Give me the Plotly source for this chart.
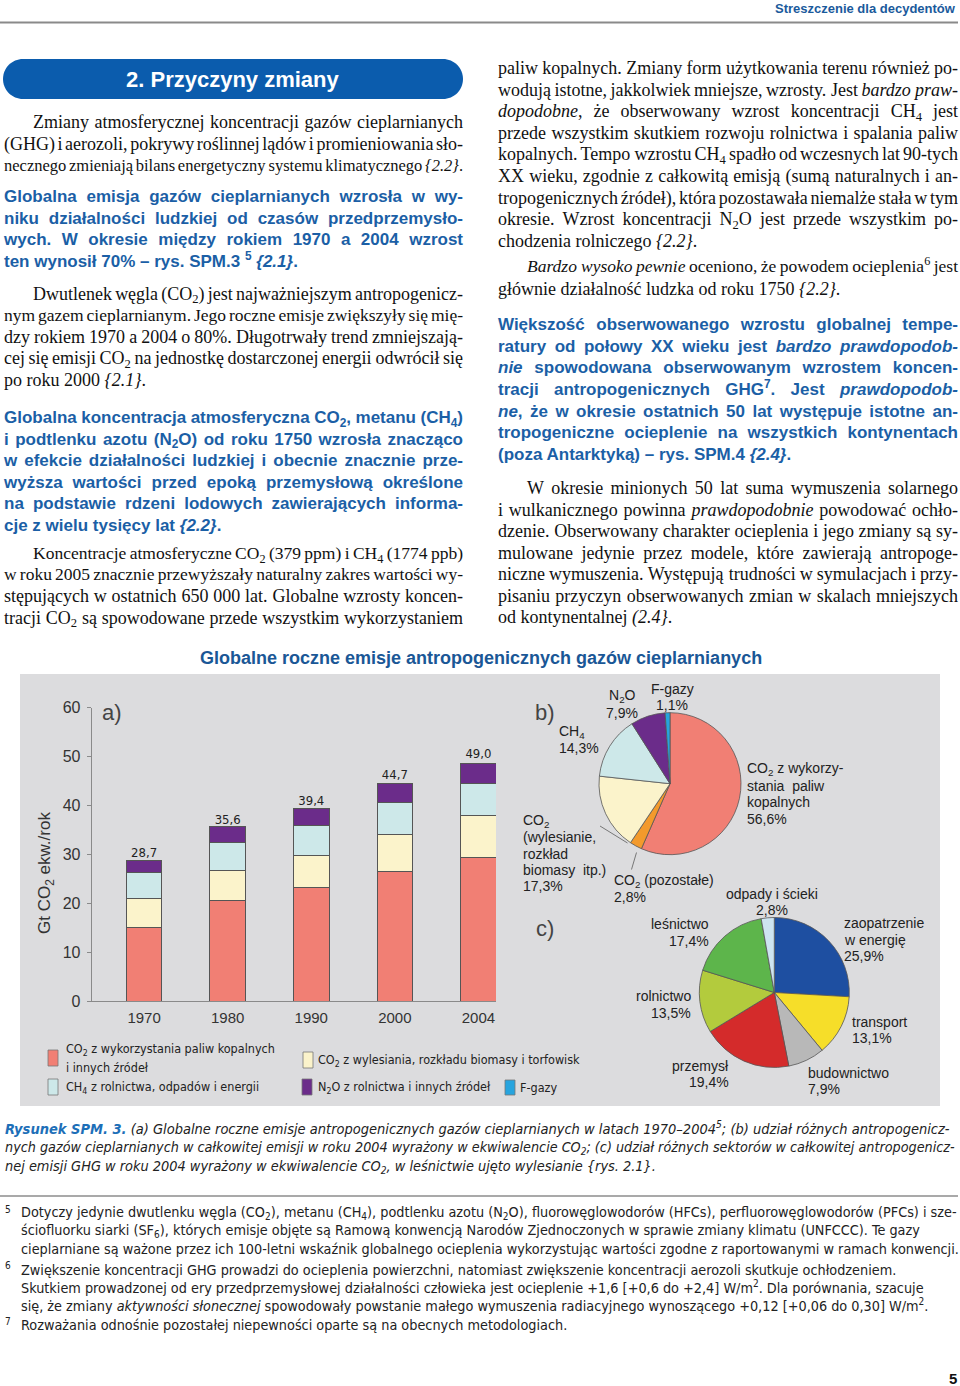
import re
import plotly.graph_objects as go

W, H = 960, 1386


def X(px):
    return px / W


def Y(py):
    return 1 - py / H


# ---------------- data ----------------
years = ["1970", "1980", "1990", "2000", "2004"]
co2_fossil = [15.1, 20.6, 23.3, 26.4, 29.3]
co2_deforest = [5.8, 6.1, 6.4, 7.7, 8.6]
ch4_values = [5.3, 5.8, 6.2, 6.5, 6.6]
n2o_values = [2.5, 3.1, 3.4, 3.9, 4.1]
totals = [28.7, 35.6, 39.4, 44.7, 49.0]
y_ticks = [0, 10, 20, 30, 40, 50, 60]

series_names = [
    "CO<sub>2</sub> z wykorzystania paliw kopalnych<br>i innych źródeł",
    "CO<sub>2</sub> z wylesiania, rozkładu biomasy i torfowisk",
    "CH<sub>4</sub> z rolnictwa, odpadów i energii",
    "N<sub>2</sub>O z rolnictwa i innych źródeł",
    "F-gazy",
]

gas_labels = ["CO2 z wykorzystania paliw kopalnych", "CO2 (pozostałe)",
              "CO2 (wylesianie, rozkład biomasy itp.)", "CH4", "N2O", "F-gazy"]
gas_shares = [56.6, 2.8, 17.3, 14.3, 7.9, 1.1]

sector_labels = ["zaopatrzenie w energię", "transport", "budownictwo", "przemysł",
                 "rolnictwo", "leśnictwo", "odpady i ścieki"]
sector_shares = [25.9, 13.1, 7.9, 19.4, 13.5, 17.4, 2.8]


def fmt(v):
    return f"{v:.1f}".replace(".", ",")


SERIF = "Liberation Serif, Times New Roman, serif"
SANS = "Liberation Sans, Arial, sans-serif"
NARROW = "Liberation Sans Narrow, Arial Narrow, DejaVu Sans Condensed, sans-serif"
BLUE = "#1b5fa6"
C_RED = "#f17f74"
C_CREAM = "#fbf3cb"
C_CYAN = "#cde8e9"
C_PURPLE = "#6b2c8a"
C_FGAS = "#27a4de"
C_ORANGE = "#f39a2c"
series_colors = [C_RED, C_CREAM, C_CYAN, C_PURPLE, C_FGAS]
sector_colors = ["#1e4fa1", "#f6de29", "#b8b8b8", "#d42b2b", "#b3cb3d", "#5db54b", "#cde4f0"]
gas_colors = [C_RED, C_ORANGE, C_CREAM, C_CYAN, C_PURPLE, C_FGAS]
EDGE = "#555555"

UP = "ABCDEFGHIJKLMNOPQRSTUVWXYZ"
LO = "abcdefghijklmnopqrstuvwxyz"
TR = dict(zip(UP, [722, 667, 667, 722, 611, 556, 722, 722, 333, 389, 722, 611, 889, 722, 722, 556, 722, 667,
                   556, 611, 722, 722, 944, 722, 722, 611]))
TR.update(zip(LO, [444, 500, 444, 500, 444, 333, 500, 500, 278, 278, 500, 278, 778, 500, 500, 500, 500, 333,
                   389, 278, 500, 500, 722, 500, 500, 444]))
TR.update({c: 500 for c in "0123456789"})
TR.update({" ": 250, ",": 250, ".": 250, "(": 333, ")": 333, "-": 333, "–": 500, ":": 278, ";": 278, "/": 278,
           "{": 480, "}": 480, "%": 833, "!": 333, "?": 444, "[": 333, "]": 333, "+": 564,
           "ą": 444, "ć": 444, "ę": 444, "ł": 278, "ń": 500, "ó": 500, "ś": 389, "ź": 444, "ż": 444,
           "Ł": 611, "Ś": 556, "Ż": 611, "Ź": 611})
TI = dict(TR)
TI.update(zip(LO, [500, 500, 444, 500, 444, 278, 500, 500, 278, 278, 444, 278, 722, 500, 500, 500, 500, 389,
                   389, 278, 500, 444, 667, 444, 444, 389]))
TI.update({"{": 400, "}": 400, "B": 611, "ą": 500, "ż": 389, "ź": 389, "ś": 389})
AB = dict(zip(UP, [722, 722, 722, 722, 667, 611, 778, 722, 278, 556, 722, 611, 833, 722, 778, 667, 778, 722,
                   667, 611, 722, 667, 944, 667, 667, 611]))
AB.update(zip(LO, [556, 611, 556, 611, 556, 333, 611, 611, 278, 278, 556, 278, 889, 611, 611, 611, 611, 389,
                   556, 333, 611, 556, 778, 556, 556, 500]))
AB.update({c: 556 for c in "0123456789"})
AB.update({" ": 278, ",": 278, ".": 278, "(": 333, ")": 333, "-": 333, "–": 556, ":": 333, ";": 333, "/": 278,
           "{": 389, "}": 389, "%": 889, "ą": 556, "ć": 556, "ę": 556, "ł": 278, "ń": 611, "ó": 611,
           "ś": 556, "ź": 500, "ż": 500, "Ś": 667, "Ż": 611, "Ł": 611})

TAG = re.compile(r"(<[^>]+>)")


def parse_words(text):
    stack, words = [], [[]]
    for part in TAG.split(text):
        if not part:
            continue
        if part.startswith("<"):
            name = part.strip("</>").split()[0]
            if part.startswith("</"):
                for k in range(len(stack) - 1, -1, -1):
                    if stack[k][0] == name:
                        stack.pop(k)
                        break
            else:
                stack.append((name, part))
        else:
            for j, piece in enumerate(part.split(" ")):
                if j > 0 and words[-1]:
                    words.append([])
                if piece:
                    words[-1].append((piece, tuple(stack)))
    return [w for w in words if w]


def word_html(word):
    out = ""
    for piece, stack in word:
        out += "".join(t[1] for t in stack) + piece + "".join("</%s>" % t[0] for t in reversed(stack))
    return out


def word_width(word, kind):
    tot = 0.0
    for piece, stack in word:
        names = [t[0] for t in stack]
        table = AB if kind == "blue" else (TI if "i" in names else TR)
        scale = 0.7 if ("sub" in names or "sup" in names) else 1.0
        tot += sum(table.get(c, 500) for c in piece) * scale
    return tot / 1000.0


fig = go.Figure()

for vals, name, col in zip([co2_fossil, co2_deforest, ch4_values, n2o_values],
                           series_names[:4], series_colors[:4]):
    fig.add_trace(go.Bar(x=years, y=vals, name=name, textposition="none",
                         marker=dict(color=col, line=dict(color=EDGE, width=1)), hoverinfo="x+y+name"))

fig.add_trace(go.Scatter(x=years, y=totals, mode="text", text=[fmt(v) for v in totals],
                         textposition="top center", cliponaxis=False,
                         textfont=dict(family=NARROW, size=13, color="#222"), hoverinfo="skip"))

fig.add_trace(go.Pie(labels=gas_labels, values=gas_shares, sort=False, direction="clockwise", rotation=0,
                     textinfo="none", textposition="none", automargin=False,
                     marker=dict(colors=gas_colors, line=dict(color=EDGE, width=0.8)),
                     domain=dict(x=[X(599), X(741)], y=[Y(854.7), Y(712.7)]), showlegend=False))

fig.add_trace(go.Pie(labels=sector_labels, values=sector_shares, sort=False, direction="clockwise", rotation=0,
                     textinfo="none", textposition="none", automargin=False,
                     marker=dict(colors=sector_colors, line=dict(color=EDGE, width=0.8)),
                     domain=dict(x=[X(699.3), X(849.3)], y=[Y(1067.5), Y(917.5)]), showlegend=False))

annotations = []


def T(x, y, text, size, family, color="#111", anchor="left"):
    annotations.append(dict(x=X(x), y=Y(y), xref="paper", yref="paper", text=text, showarrow=False,
                            xanchor=anchor, yanchor="middle", align=anchor, borderpad=0,
                            font=dict(size=size, family=family, color=color)))


shapes = []

T(957, 9, "<b>Streszczenie dla decydentów</b>", 13, SANS, "#1a5a9c", "right")
shapes.append(dict(type="line", xref="paper", yref="paper", x0=X(0), x1=X(958), y0=Y(22.5), y1=Y(22.5),
                   line=dict(color="#8a8a8a", width=2)))

x0, x1, y0, y1, r = 3, 463, 59, 99, 20
k = 0.5523 * r
pts = [("M", x0 + r, y0), ("L", x1 - r, y0),
       ("C", x1 - r + k, y0, x1, y0 + r - k, x1, y0 + r), ("L", x1, y1 - r),
       ("C", x1, y1 - r + k, x1 - r + k, y1, x1 - r, y1), ("L", x0 + r, y1),
       ("C", x0 + r - k, y1, x0, y1 - r + k, x0, y1 - r), ("L", x0, y0 + r),
       ("C", x0, y0 + r - k, x0 + r - k, y0, x0 + r, y0)]
path = ""
for p in pts:
    cmd, coords = p[0], p[1:]
    xy = [f"{X(coords[i]):.5f},{Y(coords[i + 1]):.5f}" for i in range(0, len(coords), 2)]
    path += cmd + " ".join(xy) + " "
path += "Z"
shapes.append(dict(type="path", xref="paper", yref="paper", path=path, fillcolor="#0b5cad", line=dict(width=0)))
T(233, 79, "<b>2. Przyczyny zmiany</b>", 22, SANS, "white", "center")

S, B = "serif", "blue"
body = [
    (33, 123, S, "Zmiany atmosferycznej koncentracji gazów cieplarnianych", True),
    (4, 145, S, "(GHG) i aerozoli, pokrywy roślinnej lądów i promieniowania sło-", True),
    (4, 166.5, S, "necznego zmieniają bilans energetyczny systemu klimatycznego <i>{2.2}</i>.", True),
    (4, 198, B, "Globalna emisja gazów cieplarnianych wzrosła w wy-", True),
    (4, 219.5, B, "niku działalności ludzkiej od czasów przedprzemysło-", True),
    (4, 241, B, "wych. W okresie między rokiem 1970 a 2004 wzrost", True),
    (4, 263, B, "ten wynosił 70% – rys. SPM.3 <sup>5</sup>  <i>{2.1}</i>.", False),
    (33, 295, S, "Dwutlenek węgla (CO<sub>2</sub>) jest najważniejszym antropogenicz-", True),
    (4, 316.5, S, "nym gazem cieplarnianym. Jego roczne emisje zwiększyły się mię-", True),
    (4, 338, S, "dzy rokiem 1970 a 2004 o 80%. Długotrwały trend zmniejszają-", True),
    (4, 359.5, S, "cej się emisji CO<sub>2</sub> na jednostkę dostarczonej energii odwrócił się", True),
    (4, 381, S, "po roku 2000 <i>{2.1}</i>.", False),
    (4, 419, B, "Globalna koncentracja atmosferyczna CO<sub>2</sub>, metanu (CH<sub>4</sub>)", True),
    (4, 440.5, B, "i podtlenku azotu (N<sub>2</sub>O) od roku 1750 wzrosła znacząco", True),
    (4, 462, B, "w efekcie działalności ludzkiej i obecnie znacznie prze-", True),
    (4, 483.5, B, "wyższa wartości przed epoką przemysłową określone", True),
    (4, 505, B, "na podstawie rdzeni lodowych zawierających informa-", True),
    (4, 526.5, B, "cje z wielu tysięcy lat <i>{2.2}</i>.", False),
    (33, 554.5, S, "Koncentracje atmosferyczne CO<sub>2</sub> (379 ppm) i CH<sub>4</sub> (1774 ppb)", True),
    (4, 576, S, "w roku 2005 znacznie przewyższały naturalny zakres wartości wy-", True),
    (4, 597.5, S, "stępujących w ostatnich 650 000 lat. Globalne wzrosty koncen-", True),
    (4, 619, S, "tracji CO<sub>2</sub> są spowodowane przede wszystkim wykorzystaniem", True),
    (498, 69.5, S, "paliw kopalnych. Zmiany form użytkowania terenu również po-", True),
    (498, 91, S, "wodują istotne, jakkolwiek mniejsze, wzrosty. Jest <i>bardzo praw-</i>", True),
    (498, 112.5, S, "<i>dopodobne</i>, że obserwowany wzrost koncentracji CH<sub>4</sub> jest", True),
    (498, 134, S, "przede wszystkim skutkiem rozwoju rolnictwa i spalania paliw", True),
    (498, 155.5, S, "kopalnych. Tempo wzrostu CH<sub>4</sub> spadło od wczesnych lat 90-tych", True),
    (498, 177.5, S, "XX wieku, zgodnie z całkowitą emisją (sumą naturalnych i an-", True),
    (498, 199, S, "tropogenicznych źródeł), która pozostawała niemalże stała w tym", True),
    (498, 220.5, S, "okresie. Wzrost koncentracji N<sub>2</sub>O jest przede wszystkim po-", True),
    (498, 242, S, "chodzenia rolniczego <i>{2.2}</i>.", False),
    (527, 268, S, "<i>Bardzo wysoko pewnie</i> oceniono, że powodem ocieplenia<sup>6</sup> jest", True),
    (498, 290, S, "głównie działalność ludzka od roku 1750 <i>{2.2}</i>.", False),
    (498, 325.5, B, "Większość obserwowanego wzrostu globalnej tempe-", True),
    (498, 347.5, B, "ratury od połowy XX wieku jest <i>bardzo prawdopodob-</i>", True),
    (498, 369, B, "<i>nie</i> spowodowana obserwowanym wzrostem koncen-", True),
    (498, 391, B, "tracji antropogenicznych GHG<sup>7</sup>. Jest <i>prawdopodob-</i>", True),
    (498, 412.5, B, "<i>ne</i>, że w okresie ostatnich 50 lat występuje istotne an-", True),
    (498, 434, B, "tropogeniczne ocieplenie na wszystkich kontynentach", True),
    (498, 456, B, "(poza Antarktyką) – rys. SPM.4 <i>{2.4}</i>.", False),
    (527, 489, S, "W okresie minionych 50 lat suma wymuszenia solarnego", True),
    (498, 511, S, "i wulkanicznego powinna <i>prawdopodobnie</i> powodować ochło-", True),
    (498, 532.5, S, "dzenie. Obserwowany charakter ocieplenia i jego zmiany są sy-", True),
    (498, 554, S, "mulowane jedynie przez modele, które zawierają antropoge-", True),
    (498, 575.5, S, "niczne wymuszenia. Występują trudności w symulacjach i przy-", True),
    (498, 597, S, "pisaniu przyczyn obserwowanych zmian w skalach mniejszych", True),
    (498, 618.5, S, "od kontynentalnej <i>(2.4}</i>.", False),
]

txt = {S: dict(x=[], y=[], text=[], pos=[], size=[]), B: dict(x=[], y=[], text=[], pos=[], size=[])}


def add_text(kind, x, y, s, pos, size):
    d = txt[kind]
    d["x"].append(x)
    d["y"].append(y)
    d["text"].append("<b>" + s + "</b>" if kind == B else s)
    d["pos"].append(pos)
    d["size"].append(size)


for left, y, kind, text, justify in body:
    right = 463 if left < 480 else 958
    base = 18 if kind == S else 17
    words = parse_words(text)
    if not justify:
        add_text(kind, left, y, " ".join(word_html(w) for w in words), "middle right", base)
        continue
    size = base
    while True:
        widths = [word_width(w, kind) * size for w in words]
        gap = (right - left - sum(widths)) / (len(words) - 1)
        if gap >= 0.12 * size or size <= 14:
            break
        size -= 0.5
    xpos = left
    for i, (w, wd) in enumerate(zip(words, widths)):
        if i == len(words) - 1:
            add_text(kind, right, y, word_html(w), "middle left", size)
        else:
            add_text(kind, xpos, y, word_html(w), "middle right", size)
        xpos += wd + gap

for kind, family, color in [(S, SERIF, "#111"), (B, SANS, BLUE)]:
    d = txt[kind]
    fig.add_trace(go.Scatter(x=d["x"], y=d["y"], text=d["text"], mode="text", textposition=d["pos"],
                             textfont=dict(family=family, size=d["size"], color=color),
                             xaxis="x2", yaxis="y2", cliponaxis=False, hoverinfo="skip", showlegend=False))

T(481, 658, "<b>Globalne roczne emisje antropogenicznych gazów cieplarnianych</b>", 18, SANS, "#1a5796", "center")
shapes.append(dict(type="rect", xref="paper", yref="paper", x0=X(20), x1=X(940), y0=Y(1106), y1=Y(674),
                   fillcolor="#dcdcde", line=dict(width=0), layer="below"))

T(112, 712.5, "a)", 22, SANS, "#444", "center")
T(545, 712.5, "b)", 22, SANS, "#444", "center")
T(545, 928, "c)", 22, SANS, "#444", "center")

annotations.append(dict(x=X(46), y=Y(873), xref="paper", yref="paper", text="Gt CO<sub>2</sub> ekw./rok",
                        textangle=-90, showarrow=False, xanchor="center", yanchor="middle",
                        font=dict(size=17, family=SANS, color="#333")))

PL = 14
T(622, 696, "N<sub>2</sub>O", PL, SANS, "#222", "center")
T(622, 712.5, fmt(gas_shares[4]) + "%", PL, SANS, "#222", "center")
T(672, 689, "F-gazy", PL, SANS, "#222", "center")
T(672, 705, fmt(gas_shares[5]) + "%", PL, SANS, "#222", "center")
T(558, 731.5, "CH<sub>4</sub>", PL, SANS, "#222")
T(558, 748, fmt(gas_shares[3]) + "%", PL, SANS, "#222")
for i, line in enumerate(["CO<sub>2</sub> z wykorzy-", "stania  paliw", "kopalnych", fmt(gas_shares[0]) + "%"]):
    T(746, 769 + 16.5 * i, line, PL, SANS, "#222")
for i, line in enumerate(["CO<sub>2</sub>", "(wylesianie,", "rozkład", "biomasy  itp.)", fmt(gas_shares[2]) + "%"]):
    T(521.5, 821 + 16.3 * i, line, PL, SANS, "#222")
T(613, 880.5, "CO<sub>2</sub> (pozostałe)", PL, SANS, "#222")
T(613, 897, fmt(gas_shares[1]) + "%", PL, SANS, "#222")
for (ax0, ay0, ax1, ay1) in [(600, 826, 627.5, 843), (631.5, 869.5, 636.5, 852.5)]:
    shapes.append(dict(type="line", xref="paper", yref="paper", x0=X(ax0), y0=Y(ay0), x1=X(ax1), y1=Y(ay1),
                       line=dict(color="#777", width=1)))

T(771.5, 894, "odpady i ścieki", PL, SANS, "#222", "center")
T(771.5, 910, fmt(sector_shares[6]) + "%", PL, SANS, "#222", "center")
T(843, 923, "zaopatrzenie", PL, SANS, "#222")
T(843, 940, "w energię", PL, SANS, "#222")
T(843, 956, fmt(sector_shares[0]) + "%", PL, SANS, "#222")
T(710, 924, "leśnictwo", PL, SANS, "#222", "right")
T(710, 941, fmt(sector_shares[5]) + "%", PL, SANS, "#222", "right")
T(692, 996, "rolnictwo", PL, SANS, "#222", "right")
T(692, 1012.5, fmt(sector_shares[4]) + "%", PL, SANS, "#222", "right")
T(851, 1021.5, "transport", PL, SANS, "#222")
T(851, 1037.5, fmt(sector_shares[1]) + "%", PL, SANS, "#222")
T(730, 1066, "przemysł", PL, SANS, "#222", "right")
T(730, 1081.5, fmt(sector_shares[3]) + "%", PL, SANS, "#222", "right")
T(807, 1072.5, "budownictwo", PL, SANS, "#222")
T(807, 1089, fmt(sector_shares[2]) + "%", PL, SANS, "#222")

legend_items = [
    ((48, 58, 1050, 1066), 65, [1049, 1067], series_names[0].split("<br>")),
    ((303, 313, 1052, 1068), 317, [1060], [series_names[1]]),
    ((48, 58, 1079, 1095), 65, [1087], [series_names[2]]),
    ((302, 312, 1079, 1095), 317, [1087], [series_names[3]]),
    ((505, 515, 1080, 1095), 519, [1087], [series_names[4]]),
]
for (box, tx, tys, lines), col in zip(legend_items, [C_RED, C_CREAM, C_CYAN, C_PURPLE, C_FGAS]):
    bx0, bx1, by0, by1 = box
    shapes.append(dict(type="rect", xref="paper", yref="paper", x0=X(bx0), x1=X(bx1), y0=Y(by1), y1=Y(by0),
                       fillcolor=col, line=dict(color="#777", width=0.8)))
    for ty, line in zip(tys, lines):
        T(tx, ty, line, 12.5, NARROW, "#222")

T(4, 1128, "<span style='color:#1d6fb8'><b><i>Rysunek SPM. 3.</i></b></span> <i>(a) Globalne roczne emisje "
           "antropogenicznych gazów cieplarnianych w latach 1970–2004<sup>5</sup>; (b) udział różnych antropogenicz-</i>",
  14.5, NARROW, "#222")
T(4, 1148, "<i>nych gazów cieplarnianych w całkowitej emisji w roku 2004 wyrażony w ekwiwalencie CO<sub>2</sub>; "
           "(c) udział różnych sektorów w całkowitej antropogenicz-</i>", 14.25, NARROW, "#222")
T(4, 1167, "<i>nej emisji GHG w roku 2004 wyrażony w ekwiwalencie CO<sub>2</sub>, w leśnictwie ujęto wylesianie "
           "{rys. 2.1}.</i>", 14.4, NARROW, "#222")

shapes.append(dict(type="line", xref="paper", yref="paper", x0=X(0), x1=X(958), y0=Y(1196), y1=Y(1196),
                   line=dict(color="#555", width=1.2)))
FN = 14.3
for num, ny in [("5", 1209), ("6", 1265), ("7", 1321)]:
    T(4, ny, num, 10, NARROW, "#222")
foot = [
    (1213, "Dotyczy jedynie dwutlenku węgla (CO<sub>2</sub>), metanu (CH<sub>4</sub>), podtlenku azotu (N<sub>2</sub>O), "
           "fluorowęglowodorów (HFCs), perfluorowęglowodorów (PFCs) i sze-"),
    (1231, "ściofluorku siarki (SF<sub>6</sub>), których emisje objęte są Ramową konwencją Narodów Zjednoczonych "
           "w sprawie zmiany klimatu (UNFCCC). Te gazy"),
    (1248.5, "cieplarniane są ważone przez ich 100-letni wskaźnik globalnego ocieplenia wykorzystując wartości "
             "zgodne z raportowanymi w ramach konwencji."),
    (1269.5, "Zwiększenie koncentracji GHG prowadzi do ocieplenia powierzchni, natomiast zwiększenie koncentracji "
             "aerozoli skutkuje ochłodzeniem."),
    (1287, "Skutkiem prowadzonej od ery przedprzemysłowej działalności człowieka jest ocieplenie +1,6 [+0,6 do +2,4] "
           "W/m<sup>2</sup>. Dla porównania, szacuje"),
    (1305, "się, że zmiany <i>aktywności słonecznej</i> spowodowały powstanie małego wymuszenia radiacyjnego "
           "wynoszącego +0,12 [+0,06 do 0,30] W/m<sup>2</sup>."),
    (1325, "Rozważania odnośnie pozostałej niepewności oparte są na obecnych metodologiach."),
]
for fy, text in foot:
    T(20, fy, text, FN, NARROW, "#222")

T(958, 1378, "<b>5</b>", 15, SANS, "#111", "right")

fig.update_layout(
    width=W, height=H, margin=dict(l=0, r=0, t=0, b=0, pad=0, autoexpand=False),
    paper_bgcolor="white", plot_bgcolor="rgba(0,0,0,0)",
    barmode="stack", bargap=0.575, showlegend=False,
    xaxis=dict(domain=[X(91.7), X(496)], range=[-0.627, 4.21], type="category", showline=True,
               linecolor="#8a8a8a", linewidth=1, ticks="", showgrid=False, zeroline=False, automargin=False,
               tickfont=dict(family=SANS, size=15, color="#333"), ticklabelstandoff=3, fixedrange=True),
    yaxis=dict(domain=[Y(1001), Y(707.7)], range=[0, 60], tickvals=y_ticks, ticks="outside", ticklen=4,
               tickcolor="#8a8a8a", showline=True, linecolor="#8a8a8a", linewidth=1, showgrid=False,
               zeroline=False, tickfont=dict(family=SANS, size=16, color="#333"), ticklabelstandoff=3,
               fixedrange=True, automargin=False),
    xaxis2=dict(domain=[0, 1], range=[0, W], visible=False, showticklabels=False, automargin=False,
                fixedrange=True, anchor="y2"),
    yaxis2=dict(domain=[0, 1], range=[H, 0], visible=False, showticklabels=False, automargin=False,
                fixedrange=True, anchor="x2"),
    annotations=annotations, shapes=shapes,
)

fig.write_html(
    "out.html",
    config={"displayModeBar": False},
    post_script=("document.documentElement.style.margin='0';document.body.style.margin='0';"
                 "document.body.style.padding='0';document.documentElement.style.overflow='hidden';"
                 "document.body.style.overflow='hidden';"),
)
